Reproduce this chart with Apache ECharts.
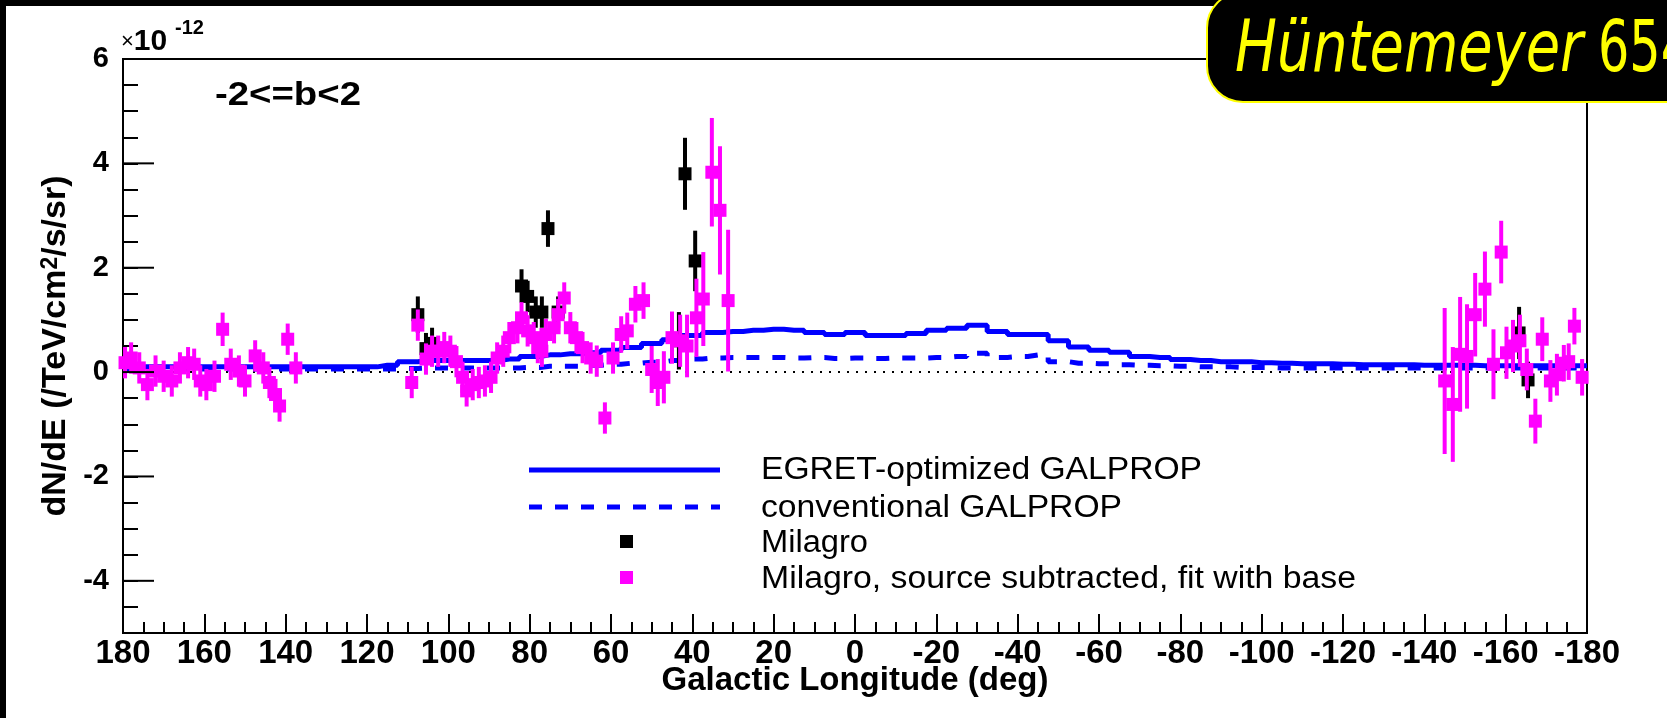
<!DOCTYPE html>
<html>
<head>
<meta charset="utf-8">
<script src="https://cdn.jsdelivr.net/npm/echarts@6/dist/echarts.min.js"></script>
<style>
html,body{margin:0;padding:0;background:#fff;}
#c{width:1667px;height:718px;}
</style>
</head>
<body>
<div id="c"></div>
<script>
// ---- data (values in units of 1e-12 /TeV/cm^2/s/sr) ----
const xTicks = [180,160,140,120,100,80,60,40,20,0,-20,-40,-60,-80,-100,-120,-140,-160,-180];
const yTickLabels = [-4,-2,0,2,4,6];

// Milagro, source subtracted (magenta): longitude, value, error
const subL = [179.5,178,176,174,172,170,168,166,164,162.5,161,159.5,157.5,155.5,153.5,151.5,150,147.5,145.5,144,142.5,141.5,139.5,137.5,
  109,107.5,105.5,104,102.5,101,99.5,98,96.5,95.5,94,92.5,91,89.5,88,86.5,85,83,82,80.5,79,78,77,76,74,73,71.5,70,68.5,67,65,63.5,61.5,59.5,57.5,56,54,52,50,48.5,47,45,43,41.3,39,37.3,35.2,33.2,31.2,
  -145,-147,-148.8,-150.5,-152.5,-154.9,-157,-158.9,-160.2,-161.8,-163.5,-165.2,-167.3,-169,-171,-172.6,-174.3,-175.5,-176.9,-178.8];
const subV = [0.18,0.27,0.08,-0.24,0.02,-0.08,-0.17,0.08,0.18,0.15,-0.17,-0.24,-0.08,0.82,0.15,0.02,-0.17,0.31,0.08,-0.2,-0.43,-0.65,0.63,0.08,
  -0.2,0.9,0.25,0.4,0.4,0.47,0.4,0.2,-0.1,-0.36,-0.24,-0.2,-0.17,-0.1,0.27,0.4,0.66,0.85,1.04,0.79,0.66,0.47,0.4,0.72,0.85,1.1,1.42,0.85,0.66,0.47,0.27,0.21,-0.88,0.27,0.72,0.79,1.3,1.37,0.05,-0.2,-0.1,0.66,0.6,0.5,1.04,1.4,3.83,3.1,1.37,
  -0.17,-0.62,0.34,0.3,1.1,1.59,0.15,2.3,0.37,0.5,0.6,0.05,-0.94,0.63,-0.17,-0.05,0.17,0.2,0.88,-0.1];
const subE = [0.3,0.3,0.3,0.3,0.3,0.3,0.3,0.3,0.3,0.3,0.3,0.3,0.3,0.32,0.3,0.3,0.3,0.3,0.3,0.3,0.3,0.3,0.3,0.3,
  0.3,0.3,0.3,0.3,0.3,0.3,0.3,0.3,0.3,0.3,0.3,0.3,0.3,0.3,0.3,0.3,0.3,0.3,0.3,0.3,0.3,0.3,0.3,0.3,0.3,0.3,0.3,0.3,0.3,0.3,0.3,0.3,0.3,0.3,0.35,0.35,0.35,0.35,0.45,0.45,0.5,0.5,0.5,0.6,0.75,0.9,1.04,1.23,1.36,
  1.4,1.1,1.1,1.0,0.8,0.72,0.67,0.6,0.5,0.5,0.5,0.4,0.43,0.42,0.4,0.4,0.35,0.35,0.35,0.35];

// Milagro (black): longitude, value, error
const milL = [107.5,105.5,104,82,80.5,78.5,77,75.5,73,43.3,41.8,39.3,-163.3,-165.5];
const milV = [1.1,0.45,0.55,1.65,1.45,1.15,1.15,2.75,1.15,0.6,3.8,2.13,0.75,-0.15];
const milE = [0.35,0.3,0.3,0.32,0.3,0.3,0.3,0.35,0.3,0.55,0.69,0.58,0.5,0.35];

// GALPROP model profiles
const galL = [180,175,170,165,160,155,150,145,140,135,130,125,120,115,110,105,100,95,90,85,80,75,70,65,60,55,50,45,40,35,30,25,20,15,10,5,0,-5,-10,-15,-20,-25,-30,-35,-40,-45,-50,-55,-60,-65,-70,-75,-80,-85,-90,-95,-100,-105,-110,-115,-120,-125,-130,-135,-140,-145,-150,-155,-160,-165,-170,-175,-180];
const egretV = [0.1,0.1,0.1,0.1,0.1,0.1,0.1,0.1,0.1,0.1,0.1,0.1,0.1,0.13,0.2,0.22,0.22,0.22,0.22,0.25,0.3,0.33,0.35,0.37,0.42,0.47,0.55,0.62,0.7,0.76,0.78,0.8,0.82,0.8,0.76,0.72,0.76,0.7,0.7,0.74,0.8,0.84,0.9,0.78,0.72,0.72,0.6,0.48,0.42,0.38,0.3,0.28,0.24,0.22,0.2,0.2,0.18,0.17,0.16,0.16,0.15,0.14,0.14,0.14,0.13,0.13,0.13,0.12,0.12,0.12,0.12,0.12,0.12];
const convV = [0.06,0.06,0.06,0.06,0.06,0.06,0.06,0.06,0.06,0.06,0.06,0.06,0.06,0.06,0.07,0.08,0.08,0.08,0.08,0.08,0.09,0.11,0.11,0.13,0.15,0.17,0.19,0.22,0.25,0.27,0.28,0.28,0.28,0.27,0.28,0.26,0.27,0.26,0.27,0.27,0.28,0.3,0.36,0.28,0.3,0.33,0.2,0.17,0.16,0.14,0.13,0.12,0.11,0.1,0.1,0.09,0.09,0.08,0.08,0.08,0.08,0.08,0.08,0.08,0.08,0.08,0.08,0.08,0.08,0.08,0.08,0.08,0.08];

const legendNames = ['EGRET-optimized GALPROP','conventional GALPROP','Milagro','Milagro, source subtracted, fit with base'];

// ---- build ----
const FONT = 'Liberation Sans, Arial, Helvetica, sans-serif';
const mctx = document.createElement('canvas').getContext('2d');
function fitScale(text, font, target){ mctx.font = font; const w = mctx.measureText(text).width; return w > 0 ? target / w : 1; }

function pts(xs, ys){ return xs.map((x,i)=>[x, ys[i]]); }
function errPts(xs, ys, es){ return xs.map((x,i)=>[x, ys[i], es[i]]); }
function errRender(color){
  return function(params, api){
    const x = api.value(0), y = api.value(1), e = api.value(2);
    const p = api.coord([x, y]);
    const t = api.coord([x, y + e]);
    const b = api.coord([x, y - e]);
    return {type:'group', children:[
      {type:'line', shape:{x1:p[0], y1:t[1], x2:p[0], y2:b[1]}, style:{stroke:color, lineWidth:4}},
      {type:'rect', shape:{x:p[0]-6.5, y:p[1]-6.5, width:13, height:13}, style:{fill:color}}
    ]};
  };
}
// long ticks at the labelled y values, drawn through the axis scale
function majorTickRender(params, api){
  const p = api.coord([180, api.value(1)]);
  return {type:'rect', shape:{x:p[0], y:p[1]-1, width:31, height:2}, style:{fill:'#000'}};
}

const legendFont = '31px ' + FONT;
const titleFontI = 'italic 71px DejaVu Sans';
const titleFontN = '71px DejaVu Sans';

const chart = echarts.init(document.getElementById('c'), null, {renderer:'canvas'});
const axisLineStyle = {color:'#000', width:2};
const option = {
  animation:false,
  backgroundColor:'#fff',
  grid:{left:123, right:80, top:59, bottom:85, show:true, borderColor:'#000', borderWidth:2, backgroundColor:'#fff'},
  xAxis:[{
    type:'value', min:-180, max:180, interval:20, inverse:true,
    axisLine:{show:true, onZero:false, lineStyle:axisLineStyle},
    axisTick:{show:true, inside:true, length:19, lineStyle:{color:'#000', width:2}},
    minorTick:{show:true, splitNumber:4, length:11, lineStyle:{color:'#000', width:2}},
    splitLine:{show:false},
    axisLabel:{margin:4, fontSize:33, fontWeight:'bold', fontFamily:FONT, color:'#000', showMinLabel:true, showMaxLabel:true,
      customValues: xTicks},
    name:'Galactic Longitude (deg)', nameLocation:'middle', nameGap:31, nameMoveOverlap:false,
    nameTextStyle:{fontSize:33, fontWeight:'bold', fontFamily:FONT, color:'#000'}
  }],
  yAxis:[{
    type:'value', min:-5, max:6, interval:0.5, position:'left',
    axisLine:{show:true, onZero:false, lineStyle:axisLineStyle},
    axisTick:{show:true, inside:true, length:15, lineStyle:{color:'#000', width:2}},
    splitLine:{show:false},
    axisLabel:{margin:14, fontSize:29, fontWeight:'bold', fontFamily:FONT, color:'#000', customValues: yTickLabels},
    name:'dN/dE (/TeV/cm{sup|2}/s/sr)', nameLocation:'middle', nameGap:50, nameRotate:90, nameMoveOverlap:false,
    nameTextStyle:{fontSize:34, fontWeight:'bold', fontFamily:FONT, color:'#000',
      rich:{sup:{fontSize:23, fontWeight:'bold', fontFamily:FONT, color:'#000', verticalAlign:'top'}}}
  }],
  series:[
    {name:'zero', type:'line', data:[[-180,0],[180,0]], symbol:'none', silent:true,
      lineStyle:{color:'#000', width:2, type:[2,7]}, z:1},
    {name:legendNames[0], type:'line', step:'middle', data:pts(galL, egretV), symbol:'none',
      lineStyle:{color:'#0000ff', width:5}, z:2},
    {name:legendNames[1], type:'line', step:'middle', data:pts(galL, convV), symbol:'none',
      lineStyle:{color:'#0000ff', width:5, type:[13,13]}, z:2},
    {name:legendNames[2], type:'custom', data:errPts(milL, milV, milE), renderItem:errRender('#000'), z:3},
    {name:legendNames[3], type:'custom', data:errPts(subL, subV, subE), renderItem:errRender('#ff00ff'), z:4},
    {name:'majorTicks', type:'custom', data:yTickLabels.map(v=>[180, v]), renderItem:majorTickRender, silent:true, clip:false, z:5}
  ],
  graphic:[
    {type:'rect', shape:{x:0, y:0, width:6, height:718}, style:{fill:'#000'}, z:100},
    {type:'rect', shape:{x:0, y:0, width:1667, height:6}, style:{fill:'#000'}, z:100},
    {type:'rect', shape:{x:1207, y:-8, width:520, height:110, r:36}, style:{fill:'#000', stroke:'#ffff00', lineWidth:2}, z:101},
    {type:'text', x:1235, y:53, scaleX:fitScale('Hüntemeyer', titleFontI, 348), z:102,
      style:{text:'Hüntemeyer', fill:'#ffff00', verticalAlign:'middle', align:'left', font:titleFontI}},
    {type:'text', x:1598, y:53, scaleX:fitScale('654', titleFontN, 94), z:102,
      style:{text:'654', fill:'#ffff00', verticalAlign:'middle', align:'left', font:titleFontN}},
    {type:'text', x:215, y:96, scaleX:fitScale('-2<=b<2', 'bold 33px '+FONT, 146), z:50,
      style:{text:'-2<=b<2', fill:'#000', font:'bold 33px '+FONT, verticalAlign:'middle', align:'left'}},
    {type:'text', x:121, y:42, z:50,
      style:{text:'{a|×}{b|10}', fill:'#000', verticalAlign:'middle', align:'left',
        rich:{a:{fontSize:22, fontFamily:FONT, fill:'#000'}, b:{fontSize:30, fontWeight:'bold', fontFamily:FONT, fill:'#000'}}}},
    {type:'text', x:175, y:28, z:50,
      style:{text:'-12', fill:'#000', font:'bold 20px '+FONT, verticalAlign:'middle', align:'left'}},
    // legend
    {type:'line', shape:{x1:529, y1:470, x2:720, y2:470}, style:{stroke:'#0000ff', lineWidth:5}, z:50},
    {type:'line', shape:{x1:529, y1:507, x2:720, y2:507}, style:{stroke:'#0000ff', lineWidth:5, lineDash:[13,13]}, z:50},
    {type:'rect', shape:{x:620, y:535, width:13, height:13}, style:{fill:'#000'}, z:50},
    {type:'rect', shape:{x:620, y:571, width:13, height:13}, style:{fill:'#ff00ff'}, z:50},
    {type:'text', x:761, y:470, scaleX:fitScale(legendNames[0], legendFont, 441), z:50, style:{text:legendNames[0], fill:'#000', font:legendFont, verticalAlign:'middle'}},
    {type:'text', x:761, y:508, scaleX:fitScale(legendNames[1], legendFont, 361), z:50, style:{text:legendNames[1], fill:'#000', font:legendFont, verticalAlign:'middle'}},
    {type:'text', x:761, y:543, scaleX:fitScale(legendNames[2], legendFont, 107), z:50, style:{text:legendNames[2], fill:'#000', font:legendFont, verticalAlign:'middle'}},
    {type:'text', x:761, y:579, scaleX:fitScale(legendNames[3], legendFont, 595), z:50, style:{text:legendNames[3], fill:'#000', font:legendFont, verticalAlign:'middle'}}
  ]
};
chart.setOption(option);
</script>
</body>
</html>
